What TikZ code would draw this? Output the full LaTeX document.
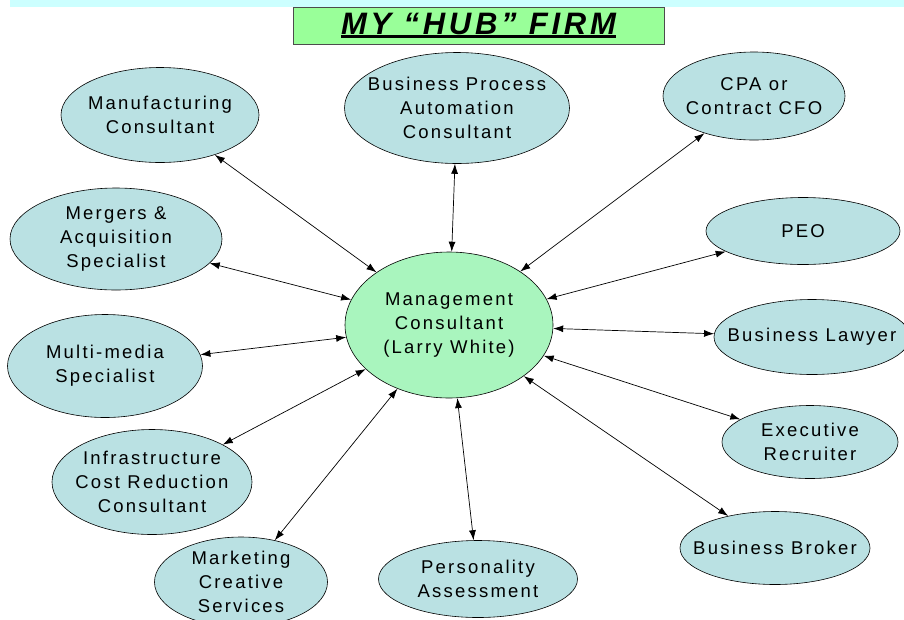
\documentclass[tikz,border=0pt]{standalone}
\usepackage{fontspec}
\setmainfont{Liberation Sans}
\newfontfamily\spaced[LetterSpace=12]{Liberation Sans}
\newfontfamily\spacedtitle[LetterSpace=12]{Liberation Sans}
\usetikzlibrary{shapes.geometric,arrows.meta}
\definecolor{spokefill}{HTML}{BAE1E3}
\definecolor{hubfill}{HTML}{A9F5BE}
\definecolor{titlefill}{HTML}{99FF99}
\definecolor{bandfill}{HTML}{CCFFFF}
% heavy bar under the heading
\newcommand\thickul[1]{\setbox0=\hbox{#1}\rlap{\rule[-3.5pt]{\wd0}{3pt}}\box0}
\begin{document}
\begin{tikzpicture}[x=1pt,y=-1pt,
  spoke/.style={ellipse,draw=black,line width=0.6pt,fill=spokefill,
    inner xsep=-16pt,inner ysep=-10pt,
    align=center,font=\spaced\fontsize{18.5}{24}\selectfont},
  link/.style={{Latex[length=10pt,width=7pt]}-{Latex[length=10pt,width=7pt]},line width=0.7pt}]
\useasboundingbox (0,0) rectangle (904,619);
\fill[bandfill] (10,0) rectangle (904,7);
\node[draw=black!70,fill=titlefill,minimum width=371pt,minimum height=37pt,inner sep=0pt,
  font=\spacedtitle\bfseries\itshape\fontsize{31}{34}\selectfont] (title) at (478.5,25.5)
  {\thickul{MY “HUB” FIRM}};
\node[spoke,fill=hubfill,minimum width=208pt,minimum height=146pt] (hub) at (449,325)
  {Management\\Consultant\\(Larry White)};
\foreach \nm/\x/\y/\w/\h/\lab in {%
  mfg/160/115/198/95/{Manufacturing\\Consultant},
  bpa/457/108/225/111/{Business Process\\Automation\\Consultant},
  cpa/754/96/182/88/{CPA or\\Contract CFO},
  mna/116/239/212/102/{Mergers \&\\Acquisition\\Specialist},
  peo/803/231/194/67/{PEO},
  media/105/366/195/103/{Multi-media\\Specialist},
  lawyer/812/337/196/75/{Business Lawyer},
  recruit/810/442/176/73/{Executive\\Recruiter},
  infra/152/482/200/105/{Infrastructure\\Cost Reduction\\Consultant},
  broker/775/548/190/73/{Business Broker},
  mktg/241/582/173/90/{Marketing\\Creative\\Services},
  persona/478/579/199/77/{Personality\\Assessment}}
  {\node[spoke,minimum width=\w pt,minimum height=\h pt] (\nm) at (\x,\y) {\lab};}
\foreach \nm in {mfg,bpa,cpa,mna,peo,media,lawyer,recruit,infra,broker,mktg,persona}
  \draw[link] (\nm) -- (hub);
\end{tikzpicture}
\end{document}
